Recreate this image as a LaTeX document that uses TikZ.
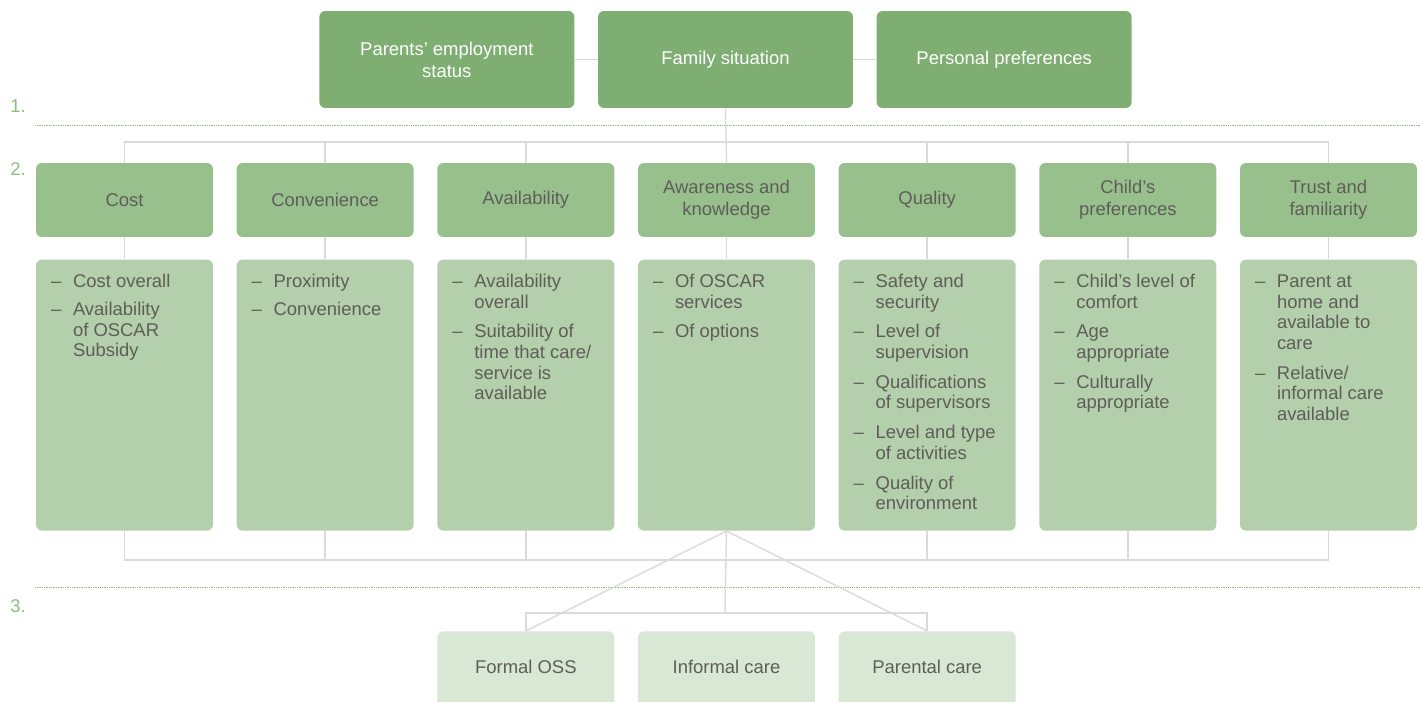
\documentclass[tikz,border=0pt]{standalone}
\usepackage{fontspec}
\setmainfont{Liberation Sans}
\usetikzlibrary{positioning}

\definecolor{topgreen}{RGB}{126,174,113}
\definecolor{headgreen}{RGB}{152,192,140}
\definecolor{detailgreen}{RGB}{179,207,171}
\definecolor{caregreen}{RGB}{217,231,213}
\definecolor{linkgrey}{RGB}{218,218,218}
\definecolor{rulegreen}{RGB}{141,184,130}
\definecolor{numgreen}{RGB}{141,190,128}
\definecolor{textgrey}{RGB}{94,94,88}

% one bullet of a detail box
\newcommand{\entry}[1]{\noindent\makebox[0.44cm][l]{--}\begin{tabular}[t]{@{}l@{}}#1\end{tabular}\par\vspace{0.15cm}}
\newcommand{\entries}[1]{\parbox[c][4.88cm][t]{2.94cm}{#1}}

\begin{document}
\begin{tikzpicture}[x=0.02cm, y=-0.02cm,
    factor/.style={fill=topgreen, rounded corners=0.12cm, minimum width=5.1cm, minimum height=1.94cm,
        align=center, text=white, font=\fontsize{10.5}{12.5}\selectfont},
    head/.style={fill=headgreen, rounded corners=0.12cm, minimum width=3.54cm, minimum height=1.48cm,
        align=center, text=textgrey, font=\fontsize{10.5}{12.5}\selectfont},
    detail/.style={fill=detailgreen, rounded corners=0.12cm, minimum width=3.54cm, minimum height=5.42cm,
        inner xsep=0.3cm, inner ysep=0.27cm, text=textgrey, font=\fontsize{10.5}{11.7}\selectfont},
    care/.style={fill=caregreen, rounded corners=0.12cm, minimum width=3.54cm, minimum height=1.6cm,
        text height=0.28cm, text depth=0.2cm, align=center, text=textgrey, font=\fontsize{10.5}{12.5}\selectfont},
    link/.style={draw=linkgrey, line width=0.8pt},
    bus/.style={draw=linkgrey, line width=1.1pt},
    stage/.style={draw=rulegreen, line width=0.5pt, dash pattern=on 0.5pt off 0.5pt},
    stagenum/.style={text=numgreen, anchor=base west, inner sep=0pt, font=\fontsize{10.5}{12.5}\selectfont},
]
\useasboundingbox (0,0) rectangle (1420,702);

% 1. factors
\node[factor] (fam) at (725.5,59.5) {Family situation};
\node[factor, left=0.46cm of fam] (emp) {Parents’ employment\\status};
\node[factor, right=0.46cm of fam] (pers) {Personal preferences};

% 2. headers
\node[head] (cost) at (124.5,200) {Cost};
\node[head, right=0.46cm of cost] (conv) {Convenience};
\node[head, right=0.46cm of conv] (avail) {Availability};
\node[head, right=0.46cm of avail] (aware) {Awareness and\\knowledge};
\node[head, right=0.46cm of aware] (qual) {Quality};
\node[head, right=0.46cm of qual] (child) {Child’s\\preferences};
\node[head, right=0.46cm of child] (trust) {Trust and\\familiarity};

% 2. details
\node[detail, below=0.44cm of cost] (costd) {\entries{\entry{Cost overall}\entry{Availability\\of OSCAR\\Subsidy}}};
\node[detail, below=0.44cm of conv] (convd) {\entries{\entry{Proximity}\entry{Convenience}}};
\node[detail, below=0.44cm of avail] (availd) {\entries{\entry{Availability\\overall}\entry{Suitability of\\time that care/\\service is\\available}}};
\node[detail, below=0.44cm of aware] (awared) {\entries{\entry{Of OSCAR\\services}\entry{Of options}}};
\node[detail, below=0.44cm of qual] (quald) {\entries{\entry{Safety and\\security}\entry{Level of\\supervision}\entry{Qualifications\\of supervisors}\entry{Level and type\\of activities}\entry{Quality of\\environment}}};
\node[detail, below=0.44cm of child] (childd) {\entries{\entry{Child’s level of\\comfort}\entry{Age\\appropriate}\entry{Culturally\\appropriate}}};
\node[detail, below=0.44cm of trust] (trustd) {\entries{\entry{Parent at\\home and\\available to\\care}\entry{Relative/\\informal care\\available}}};

% 3. care types
\node[care, below=2cm of awared] (informal) {Informal care};
\node[care, left=0.46cm of informal] (formal) {Formal OSS};
\node[care, right=0.46cm of informal] (parental) {Parental care};

% stage rules
\draw[stage] (35,125) -- (1420,125);
\draw[stage] (35,587) -- (1420,587);
\node[stagenum] (n1) at (10,113) {1.};
\node[stagenum] (n2) at (10,176) {2.};
\node[stagenum] (n3) at (10,612) {3.};

% connectors
\coordinate (busT) at (725,142);
\coordinate (busB) at (725,560);
\coordinate (busC) at (725,613);

\draw[link] (emp) -- (fam);
\draw[link] (fam) -- (pers);
\draw[link] (fam.south) -- (aware.north);
\draw[bus] (cost.north) |- (busT) -| (trust.north);
\draw[link] (conv.north) -- (conv.north |- busT);
\draw[link] (avail.north) -- (avail.north |- busT);
\draw[link] (qual.north) -- (qual.north |- busT);
\draw[link] (child.north) -- (child.north |- busT);

\draw[link] (cost) -- (costd);
\draw[link] (conv) -- (convd);
\draw[link] (avail) -- (availd);
\draw[link] (aware) -- (awared);
\draw[link] (qual) -- (quald);
\draw[link] (child) -- (childd);
\draw[link] (trust) -- (trustd);

\draw[bus] (costd.south) |- (busB) -| (trustd.south);
\draw[link] (convd.south) -- (convd.south |- busB);
\draw[link] (availd.south) -- (availd.south |- busB);
\draw[link] (quald.south) -- (quald.south |- busB);
\draw[link] (childd.south) -- (childd.south |- busB);

\draw[link] (awared.south) -- (busC);
\draw[bus] (formal.north) |- (busC) -| (parental.north);
\draw[link] (awared.south) -- (formal.north);
\draw[link] (awared.south) -- (parental.north);
\end{tikzpicture}
\end{document}
